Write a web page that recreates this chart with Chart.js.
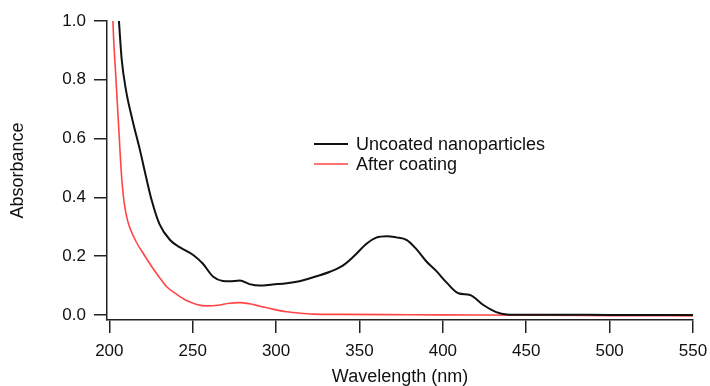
<!DOCTYPE html>
<html>
<head>
<meta charset="utf-8">
<title>Absorbance spectra</title>
<script src="https://cdn.jsdelivr.net/npm/chart.js@4.4.1/dist/chart.umd.min.js"></script>
<style>
  body { margin: 0; background: #fff; }
  #wrap { width: 710px; height: 386px; }
</style>
</head>
<body>
<div id="wrap"><canvas id="chart" width="710" height="386"></canvas></div>
<script>
// values
const seriesNames = ["Uncoated nanoparticles", "After coating"];

const uncoatedWavelength = [205.2, 206, 207.4, 210, 214, 218.4, 222, 225.4, 230, 236.4,
  242.4, 250.3, 256, 262.3, 268, 272, 278.3, 284, 290.3, 298, 306.4, 314, 320.3,
  332.3, 340, 346.3, 354.4, 360, 366.4, 372, 378.4, 384, 390.3, 396, 402.3, 409.3,
  416.3, 424.3, 432, 438.3, 450, 475, 500, 525, 550];
const uncoatedAbsorbance = [1.05, 0.98, 0.87, 0.764, 0.66, 0.56, 0.47, 0.39, 0.31, 0.255,
  0.23, 0.204, 0.175, 0.13, 0.116, 0.115, 0.117, 0.105, 0.1, 0.104, 0.108, 0.115, 0.125,
  0.147, 0.168, 0.198, 0.243, 0.263, 0.268, 0.264, 0.255, 0.225, 0.181, 0.15, 0.11, 0.074,
  0.068, 0.034, 0.01, 0.002, 0.001, 0.001, 0.0, 0.0, 0.0];

const coatedWavelength = [201.6, 202.5, 204, 206, 207, 208.3, 209.5, 211, 212.4, 216,
  221.4, 226, 230.4, 234.4, 240.4, 246, 252.4, 258.4, 265, 272, 278.3, 284, 290.3, 298,
  306.4, 314.4, 322.3, 340, 380, 420, 460, 500, 550];
const coatedAbsorbance = [1.08, 0.95, 0.8, 0.6, 0.5, 0.41, 0.36, 0.32, 0.295, 0.25,
  0.2, 0.16, 0.125, 0.096, 0.07, 0.05, 0.036, 0.031, 0.033, 0.04, 0.042, 0.038, 0.03, 0.02,
  0.011, 0.006, 0.003, 0.002, 0.001, 0.0, -0.001, -0.002, -0.003];

const xTicks = [200, 250, 300, 350, 400, 450, 500, 550];
const yTicks = [0.0, 0.2, 0.4, 0.6, 0.8, 1.0];

const FONT = "'Liberation Sans', Arial, sans-serif";

function toPoints(xs, ys) {
  return xs.map((x, i) => ({ x: x, y: ys[i] }));
}

// legend drawn inside the plot, as in the original figure
const insideLegend = {
  id: 'insideLegend',
  afterDatasetsDraw(chart) {
    const ctx = chart.ctx;
    const rows = [144, 164];
    ctx.save();
    ctx.font = "18px " + FONT;
    ctx.textBaseline = 'middle';
    ctx.textAlign = 'left';
    chart.data.datasets.forEach((ds, i) => {
      const y = rows[i];
      ctx.strokeStyle = ds.borderColor;
      ctx.lineWidth = ds.borderWidth;
      ctx.beginPath();
      ctx.moveTo(314, y);
      ctx.lineTo(348, y);
      ctx.stroke();
      ctx.fillStyle = '#111';
      ctx.fillText(ds.label, 356, y + 1);
    });
    ctx.restore();
  }
};

const axisColor = '#222';

new Chart(document.getElementById('chart'), {
  type: 'line',
  data: {
    datasets: [
      {
        label: seriesNames[0],
        data: toPoints(uncoatedWavelength, uncoatedAbsorbance),
        borderColor: '#111',
        borderWidth: 2,
        pointRadius: 0,
        cubicInterpolationMode: 'monotone'
      },
      {
        label: seriesNames[1],
        data: toPoints(coatedWavelength, coatedAbsorbance),
        borderColor: '#ff4545',
        borderWidth: 1.6,
        pointRadius: 0,
        cubicInterpolationMode: 'monotone'
      }
    ]
  },
  options: {
    responsive: false,
    devicePixelRatio: 1,
    animation: false,
    layout: { padding: { top: 21, right: 17, left: 0, bottom: 0 } },
    plugins: {
      legend: { display: false },
      tooltip: { enabled: false }
    },
    scales: {
      x: {
        type: 'linear',
        min: 198.6,
        max: 550,
        afterBuildTicks: s => { s.ticks = xTicks.map(v => ({ value: v })); },
        afterFit: s => { s.height = 66; s.paddingLeft = 0; s.paddingRight = 0; },
        grid: { drawOnChartArea: false, tickLength: 13, color: axisColor, lineWidth: 1.5 },
        border: { display: true, color: axisColor, width: 1.5 },
        ticks: { color: '#111', font: { family: FONT, size: 17 }, padding: 8, maxRotation: 0 },
        title: {
          display: true,
          text: 'Wavelength (nm)',
          color: '#111',
          font: { family: FONT, size: 18, lineHeight: 1 },
          padding: { top: 0, bottom: 0 }
        }
      },
      y: {
        min: -0.017,
        max: 1.0,
        afterBuildTicks: s => { s.ticks = yTicks.map(v => ({ value: v })); },
        afterFit: s => { s.width = 107; },
        grid: { drawOnChartArea: false, tickLength: 13, color: axisColor, lineWidth: 1.5 },
        border: { display: true, color: axisColor, width: 1.5 },
        ticks: {
          color: '#111',
          font: { family: FONT, size: 17 },
          padding: 8,
          callback: v => Number(v).toFixed(1)
        },
        title: {
          display: true,
          text: 'Absorbance',
          color: '#111',
          font: { family: FONT, size: 18 },
          padding: { top: 7, bottom: 0 }
        }
      }
    }
  },
  plugins: [insideLegend]
});
</script>
</body>
</html>
